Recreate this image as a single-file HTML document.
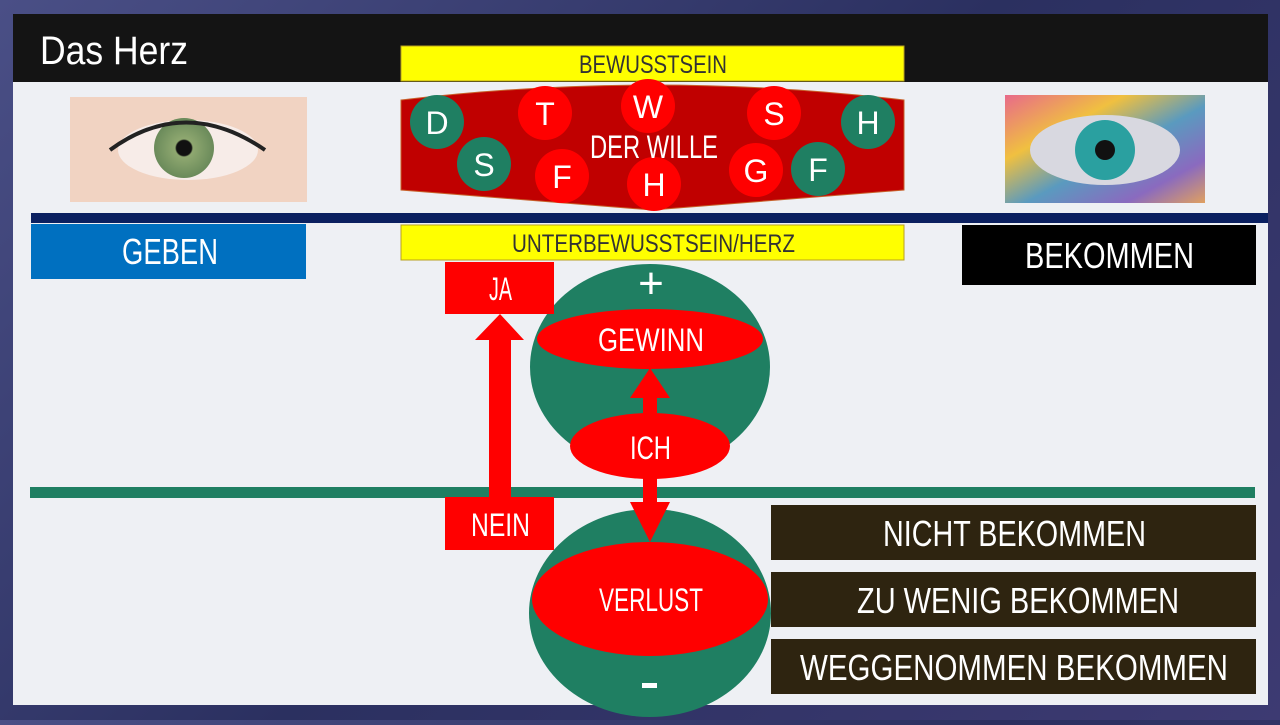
<!DOCTYPE html>
<html><head><meta charset="utf-8"><style>
body{margin:0;width:1280px;height:720px;overflow:hidden;background:linear-gradient(135deg,#4a4f86,#2b3060 50%,#3d3a72);}
svg text{font-family:"Liberation Sans",sans-serif;}
</style></head><body>
<svg width="1280" height="720" viewBox="0 0 1280 720" xmlns="http://www.w3.org/2000/svg">
<defs>
<radialGradient id="iris" cx="0.5" cy="0.5" r="0.5"><stop offset="0.25" stop-color="#111"/><stop offset="0.3" stop-color="#8fa870"/><stop offset="1" stop-color="#6a8a5a"/></radialGradient>
<linearGradient id="mosaic" x1="0" y1="0" x2="1" y2="1"><stop offset="0" stop-color="#e86a8a"/><stop offset="0.3" stop-color="#f0c040"/><stop offset="0.55" stop-color="#5a9abf"/><stop offset="0.8" stop-color="#8a6abf"/><stop offset="1" stop-color="#e0a060"/></linearGradient>
</defs>
<rect x="13" y="14" width="1255" height="691" fill="#eef0f4"/>
<rect x="13" y="14" width="1255" height="68" fill="#141414"/>
<text x="40" y="64" font-size="40" fill="#fff" textLength="148" lengthAdjust="spacingAndGlyphs">Das Herz</text>
<rect x="70" y="97" width="237" height="105" fill="#f1d3c2"/>
<ellipse cx="188" cy="150" rx="70" ry="30" fill="#f7ece8"/>
<circle cx="184" cy="148" r="30" fill="url(#iris)"/>
<path d="M110 150 Q185 95 265 150" stroke="#222" stroke-width="4" fill="none"/>
<rect x="1005" y="95" width="200" height="108" fill="url(#mosaic)"/>
<ellipse cx="1105" cy="150" rx="75" ry="35" fill="#d8d8e0"/>
<circle cx="1105" cy="150" r="30" fill="#2aa0a0"/>
<circle cx="1105" cy="150" r="10" fill="#111"/>
<rect x="31" y="213" width="1237" height="10" fill="#0b2060"/>
<rect x="30" y="487" width="1225" height="11" fill="#1f7f62"/>
<rect x="401" y="46" width="503" height="35" fill="#ffff00" stroke="#b8a020"/>
<text x="579" y="73" font-size="25" fill="#333" textLength="148" lengthAdjust="spacingAndGlyphs">BEWUSSTSEIN</text>
<rect x="401" y="225" width="503" height="35" fill="#ffff00" stroke="#b8a020"/>
<text x="512" y="252" font-size="25" fill="#333" textLength="283" lengthAdjust="spacingAndGlyphs">UNTERBEWUSSTSEIN/HERZ</text>
<path d="M401 100 Q652 70 904 100 L904 190 L652 210 L401 190 Z" fill="#c00000" stroke="#c8602a"/>
<g font-size="32" fill="#fff" text-anchor="middle">
<circle cx="437" cy="122" r="27" fill="#1f7f62"/><text x="437" y="134">D</text>
<circle cx="484" cy="164" r="27" fill="#1f7f62"/><text x="484" y="176">S</text>
<circle cx="868" cy="122" r="27" fill="#1f7f62"/><text x="868" y="134">H</text>
<circle cx="818" cy="169" r="27" fill="#1f7f62"/><text x="818" y="181">F</text>
<circle cx="545" cy="113" r="27" fill="#ff0000"/><text x="545" y="125">T</text>
<circle cx="648" cy="106" r="27" fill="#ff0000"/><text x="648" y="118">W</text>
<circle cx="774" cy="113" r="27" fill="#ff0000"/><text x="774" y="125">S</text>
<circle cx="562" cy="176" r="27" fill="#ff0000"/><text x="562" y="188">F</text>
<circle cx="654" cy="184" r="27" fill="#ff0000"/><text x="654" y="196">H</text>
<circle cx="756" cy="170" r="27" fill="#ff0000"/><text x="756" y="182">G</text>
</g>
<text x="590" y="158" font-size="32" fill="#fff" textLength="128" lengthAdjust="spacingAndGlyphs">DER WILLE</text>
<rect x="31" y="224" width="275" height="55" fill="#0070c0"/>
<text x="122" y="264" font-size="36" fill="#fff" textLength="96" lengthAdjust="spacingAndGlyphs">GEBEN</text>
<rect x="962" y="225" width="294" height="60" fill="#000"/>
<text x="1025" y="268" font-size="36" fill="#fff" textLength="169" lengthAdjust="spacingAndGlyphs">BEKOMMEN</text>
<ellipse cx="650" cy="367" rx="120" ry="103" fill="#1f7f62"/>
<ellipse cx="650" cy="613" rx="121" ry="104" fill="#1f7f62"/>
<text x="651" y="298" font-size="44" fill="#fff" text-anchor="middle">+</text>
<ellipse cx="650" cy="339" rx="113" ry="30" fill="#ff0000"/>
<text x="598" y="351" font-size="32" fill="#fff" textLength="106" lengthAdjust="spacingAndGlyphs">GEWINN</text>
<polygon points="643,398 630,398 650,368 670,398 657,398 657,420 643,420" fill="#ff0000"/>
<ellipse cx="650" cy="446" rx="80" ry="33" fill="#ff0000"/>
<text x="630" y="459" font-size="32" fill="#fff" textLength="41" lengthAdjust="spacingAndGlyphs">ICH</text>
<ellipse cx="650" cy="599" rx="118" ry="57" fill="#ff0000"/>
<polygon points="643,475 657,475 657,502 670,502 650,542 630,502 643,502" fill="#ff0000"/>
<text x="599" y="611" font-size="32" fill="#fff" textLength="104" lengthAdjust="spacingAndGlyphs">VERLUST</text>
<rect x="642" y="683" width="15" height="5" fill="#fff"/>
<rect x="445" y="262" width="109" height="52" fill="#ff0000"/>
<text x="489" y="300" font-size="32" fill="#fff" textLength="23" lengthAdjust="spacingAndGlyphs">JA</text>
<rect x="445" y="497" width="109" height="53" fill="#ff0000"/>
<text x="471" y="536" font-size="32" fill="#fff" textLength="59" lengthAdjust="spacingAndGlyphs">NEIN</text>
<polygon points="489,497 489,340 475,340 500,314 524,340 511,340 511,497" fill="#ff0000"/>
<g fill="#2e2410"><rect x="771" y="505" width="485" height="55"/><rect x="771" y="572" width="485" height="55"/><rect x="771" y="639" width="485" height="55"/></g>
<g font-size="36" fill="#fff">
<text x="883" y="546" textLength="263" lengthAdjust="spacingAndGlyphs">NICHT BEKOMMEN</text>
<text x="857" y="613" textLength="322" lengthAdjust="spacingAndGlyphs">ZU WENIG BEKOMMEN</text>
<text x="800" y="680" textLength="428" lengthAdjust="spacingAndGlyphs">WEGGENOMMEN BEKOMMEN</text>
</g>
</svg>
</body></html>
